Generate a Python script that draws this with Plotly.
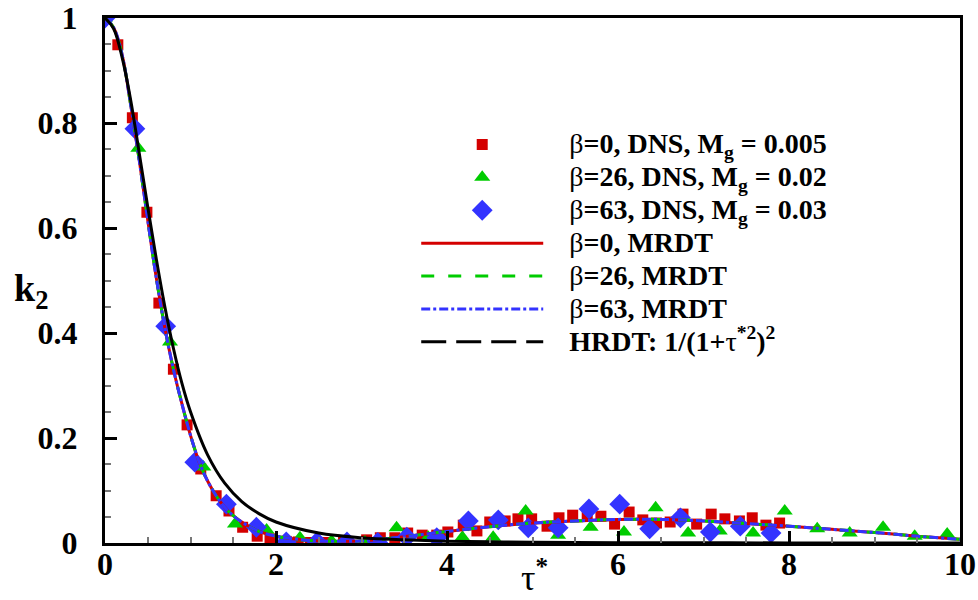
import plotly.graph_objects as go

# ---- DNS data ----
tau_b0 = [0, 0.15, 0.32, 0.49, 0.63, 0.80, 0.96, 1.12, 1.30, 1.45, 1.61, 1.78, 1.93, 2.12, 2.26,
          2.40, 2.57, 2.79, 3.06, 3.22, 3.39, 3.54, 3.71, 3.88, 4.01, 4.19, 4.35, 4.50, 4.68, 4.83,
          4.99, 5.17, 5.31, 5.47, 5.64, 5.80, 5.96, 6.13, 6.29, 6.45, 6.61, 6.76, 6.92, 7.09, 7.25,
          7.42, 7.57, 7.73, 7.89]
k2_b0 = [1.0, 0.949, 0.810, 0.630, 0.457, 0.331, 0.225, 0.141, 0.090, 0.061, 0.030, 0.013, 0.008, 0.003, 0.002,
         0.001, 0.001, 0.002, 0.006, 0.010, 0.010, 0.019, 0.015, 0.015, 0.021, 0.034, 0.023, 0.040, 0.042, 0.046,
         0.046, 0.032, 0.048, 0.053, 0.055, 0.051, 0.036, 0.059, 0.044, 0.038, 0.040, 0.055, 0.036, 0.055, 0.046,
         0.042, 0.048, 0.034, 0.038]

tau_b26 = [0, 0.39, 0.76, 1.15, 1.52, 1.89, 2.28, 2.65, 3.04, 3.41, 3.78, 4.18, 4.54, 4.92, 5.30,
           5.68, 6.07, 6.44, 6.82, 7.19, 7.58, 7.95, 8.33, 8.71, 9.10, 9.47, 9.85]
k2_b26 = [1.0, 0.752, 0.383, 0.145, 0.036, 0.025, 0.010, 0.004, 0.002, 0.029, 0.011, 0.011, 0.011, 0.061, 0.015,
          0.030, 0.021, 0.067, 0.019, 0.023, 0.019, 0.061, 0.027, 0.019, 0.030, 0.013, 0.017]

tau_b63 = [0, 0.35, 0.71, 1.05, 1.42, 1.77, 2.12, 2.48, 2.83, 3.19, 3.53, 3.88, 4.25, 4.60, 4.95,
           5.30, 5.66, 6.02, 6.37, 6.73, 7.08, 7.43, 7.79]
k2_b63 = [1.0, 0.789, 0.413, 0.154, 0.074, 0.030, 0.002, 0.002, 0.002, 0.001, 0.011, 0.010, 0.042, 0.044, 0.029,
          0.029, 0.065, 0.074, 0.027, 0.048, 0.021, 0.032, 0.019]

# ---- model curves ----
tau_mrdt = [0, 0.1, 0.2, 0.3, 0.4, 0.5, 0.6, 0.7, 0.8, 0.9, 1.0, 1.1, 1.2, 1.3, 1.4, 1.5, 1.6, 1.8,
            2.0, 2.2, 2.5, 3.0, 3.5, 4.0, 4.5, 5.0, 5.5, 6.0, 6.5, 7.0, 7.5, 8.0, 8.5, 9.0, 9.5, 10.0]
k2_mrdt = [1.0, 0.982, 0.93, 0.835, 0.73, 0.615, 0.505, 0.41, 0.331, 0.265, 0.205, 0.155, 0.118, 0.090,
           0.068, 0.052, 0.040, 0.022, 0.013, 0.008, 0.004, 0.004, 0.012, 0.022, 0.031, 0.038, 0.042,
           0.045, 0.045, 0.042, 0.037, 0.032, 0.026, 0.020, 0.013, 0.007]

tau_hrdt = [0, 0.1, 0.2, 0.3, 0.4, 0.5, 0.6, 0.7, 0.8, 0.9, 1.0, 1.2, 1.4, 1.6, 1.8, 2.0, 2.5, 3.0,
            3.5, 4.0, 4.5, 5.0, 6.0, 8.0, 10.0]
k2_hrdt = [1.0, 0.980, 0.925, 0.844, 0.743, 0.640, 0.541, 0.450, 0.371, 0.304, 0.250, 0.168, 0.114,
           0.079, 0.056, 0.040, 0.019, 0.010, 0.006, 0.0035, 0.0022, 0.0015, 0.0007, 0.0002, 0.0001]

labels = [
    "β<b>=0, DNS, M<sub>g</sub> = 0.005</b>",
    "β<b>=26, DNS, M<sub>g</sub> = 0.02</b>",
    "β<b>=63, DNS, M<sub>g</sub> = 0.03</b>",
    "β<b>=0, MRDT</b>",
    "β<b>=26, MRDT</b>",
    "β<b>=63, MRDT</b>",
    "<b>HRDT: 1/(1+</b>τ<b><sup>*2</sup>)<sup>2</sup></b>",
]
names = ["<span style='font-size:28px'>\u00a0\u00a0\u00a0" + t + "</span>" for t in labels]

RED = "#d40000"
GREEN = "#00cc00"
BLUE = "#3333ff"

fig = go.Figure()
fig.add_trace(go.Scatter(x=tau_b0, y=k2_b0, mode="markers", name=names[0],
                         marker=dict(symbol="square", size=11, color=RED)))
fig.add_trace(go.Scatter(x=tau_b26, y=k2_b26, mode="markers", name=names[1],
                         marker=dict(symbol="triangle-up", size=14, color=GREEN)))
fig.add_trace(go.Scatter(x=tau_b63, y=k2_b63, mode="markers", name=names[2],
                         marker=dict(symbol="diamond", size=16, color=BLUE)))
fig.add_trace(go.Scatter(x=tau_mrdt, y=k2_mrdt, mode="lines", name=names[3], line_shape="spline",
                         line=dict(color=RED, width=3)))
fig.add_trace(go.Scatter(x=tau_mrdt, y=k2_mrdt, mode="lines", name=names[4], line_shape="spline",
                         line=dict(color=GREEN, width=3, dash="13px,14px")))
fig.add_trace(go.Scatter(x=tau_mrdt, y=k2_mrdt, mode="lines", name=names[5], line_shape="spline",
                         line=dict(color=BLUE, width=3, dash="dashdot")))
fig.add_trace(go.Scatter(x=tau_hrdt, y=k2_hrdt, mode="lines", showlegend=False, line_shape="spline",
                         line=dict(color="black", width=3)))
fig.add_trace(go.Scatter(x=[None], y=[None], mode="lines", name=names[6],
                         line=dict(color="black", width=3, dash="25px,10px")))

SERIF = "Liberation Serif"
axis_common = dict(
    showline=True, linewidth=3, linecolor="black", mirror=True,
    ticks="inside", ticklen=12, tickwidth=3, tickcolor="black",
    showgrid=False, zeroline=False, automargin=False,
    tickfont=dict(family=SERIF, size=32, color="black", weight="bold"),
)
fig.update_xaxes(range=[0, 10], dtick=2, tick0=0,
                 minor=dict(dtick=0.5, ticklen=6, tickwidth=1.5, tickcolor="#777", ticks="inside"),
                 ticklabelstandoff=-9, **axis_common)
fig.update_yaxes(range=[0, 1], dtick=0.2, tick0=0,
                 minor=dict(dtick=0.05, ticklen=6, tickwidth=1.5, tickcolor="#777", ticks="inside"),
                 ticklabelstandoff=18, **axis_common)

fig.add_annotation(x=0.502, y=-0.062, xref="paper", yref="paper", showarrow=False,
                   text="τ<sup><b>*</b></sup>", font=dict(family=SERIF, size=36, color="black"),
                   yanchor="middle")
fig.add_annotation(x=-0.064, y=0.48, xref="paper", yref="paper", showarrow=False,
                   text="<b>k<sub>2</sub></b>", font=dict(family=SERIF, size=38, color="black"),
                   xanchor="right", yanchor="middle")

fig.update_layout(
    width=978, height=600,
    margin=dict(l=105, r=18, t=18, b=57),
    plot_bgcolor="white", paper_bgcolor="white",
    legend=dict(x=0.364, y=0.800, xanchor="left", yanchor="top",
                font=dict(family=SERIF, size=23, color="black"),
                bgcolor="rgba(0,0,0,0)", itemwidth=122,
                traceorder="normal"),
)

fig.write_html("out.html", config={"displayModeBar": False},
               post_script="document.body.style.margin='0';")
